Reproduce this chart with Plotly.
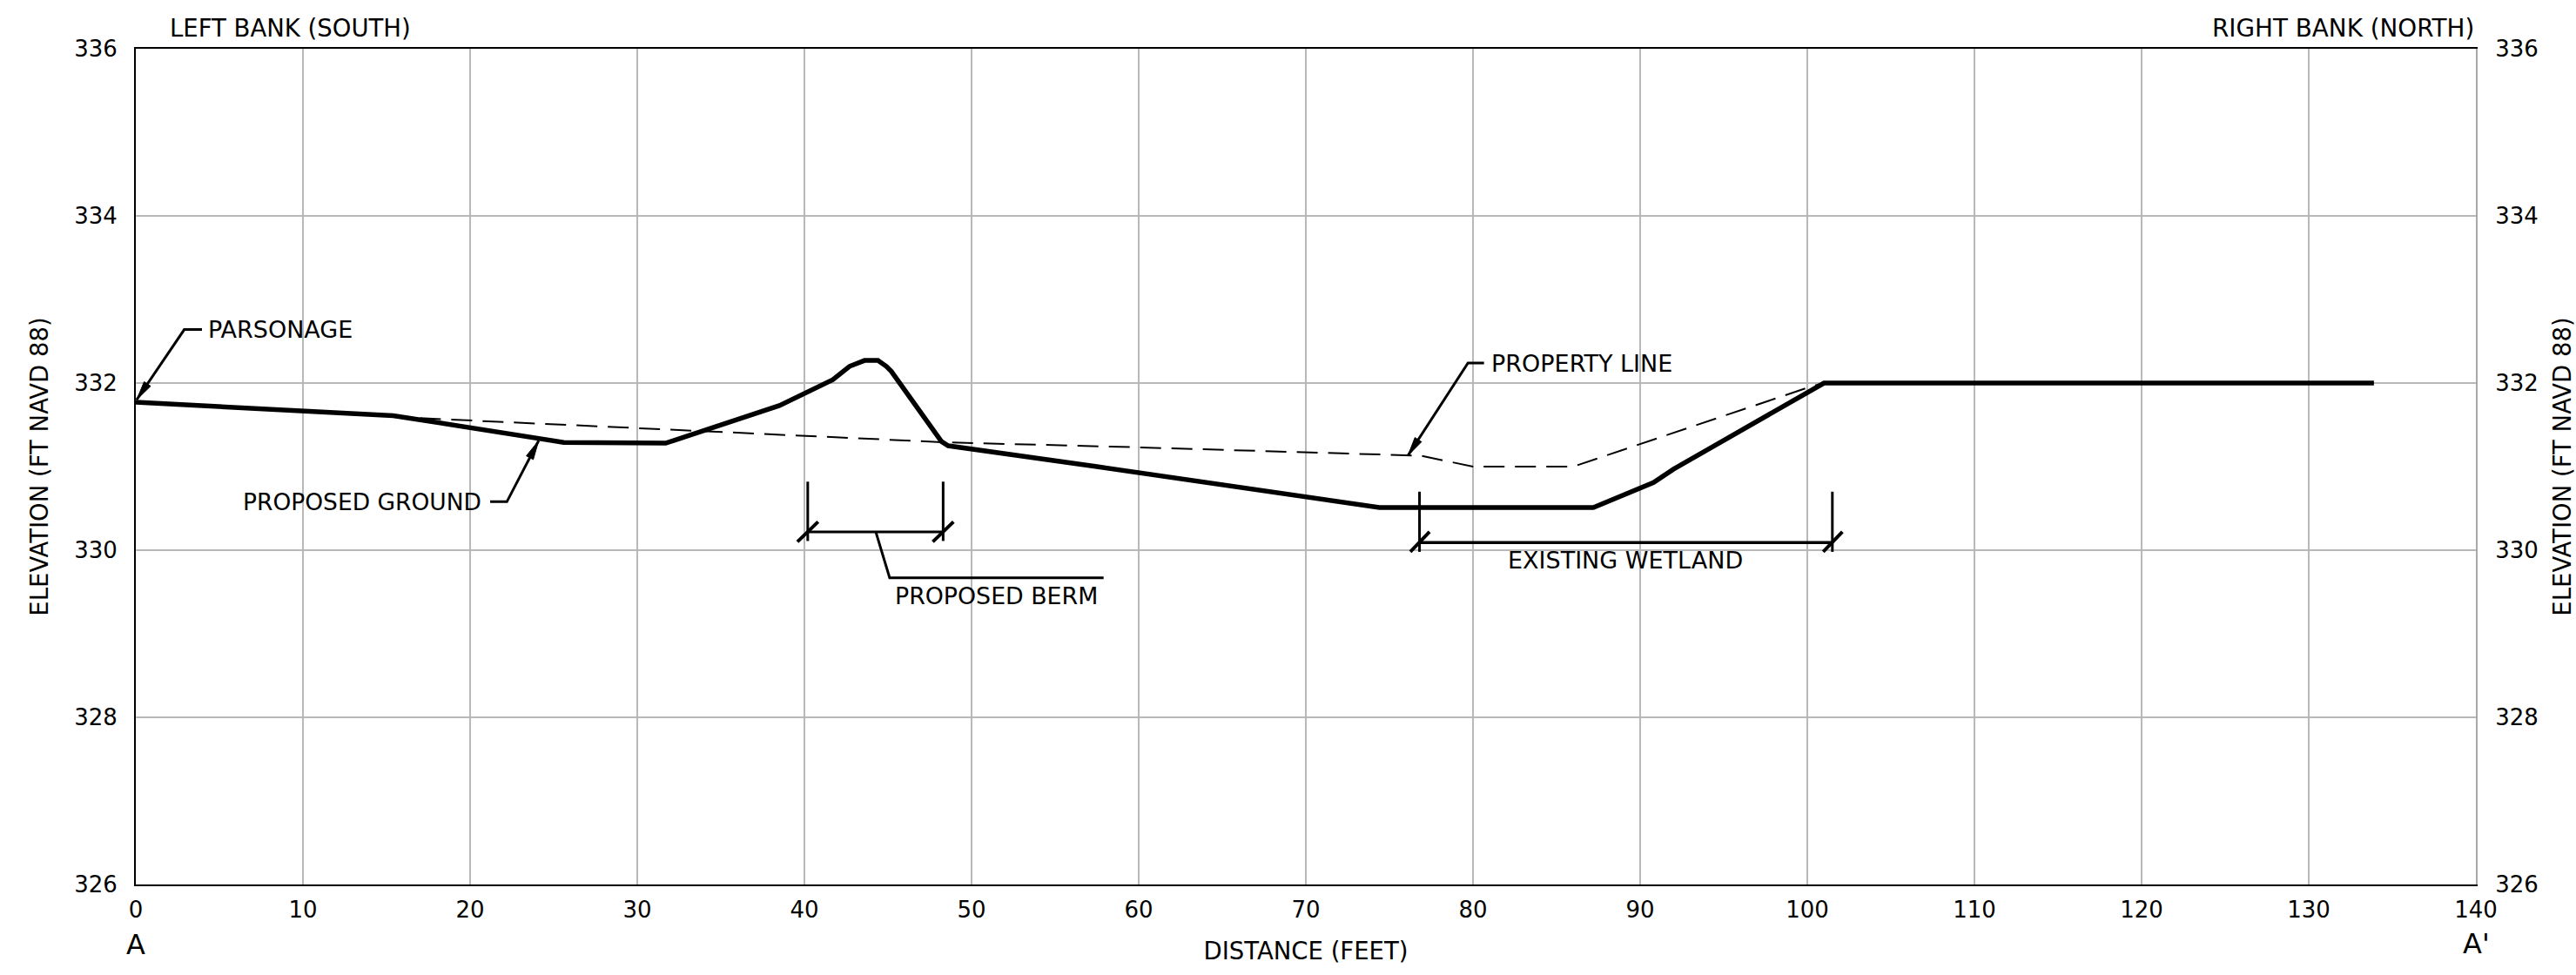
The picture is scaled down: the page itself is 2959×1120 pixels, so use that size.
import math
import plotly.graph_objects as go

FONT = "DejaVu Sans"
INK = "#000000"

x_ticks = list(range(0, 141, 10))
y_ticks = list(range(326, 337, 2))

ground_x = [0, 15.4, 25.6, 31.7, 38.5, 41.7, 42.7, 43.6, 44.4, 44.9, 45.2, 48.2, 48.6, 57.5, 74.4, 87.2, 90.8, 92, 101, 133.9]
ground_y = [331.77, 331.61, 331.29, 331.28, 331.73, 332.04, 332.2, 332.27, 332.27, 332.2, 332.14, 331.3, 331.25, 331.0, 330.51, 330.51, 330.81, 330.97, 332, 332]

existing_x = [17, 34, 48.5, 60.1, 76.9, 80, 86, 100.1, 101]
existing_y = [331.58, 331.42, 331.29, 331.23, 331.13, 331.0, 331.0, 331.95, 332]

parsonage_x = [3.96, 2.9, 0.05]
parsonage_y = [332.64, 332.64, 331.8]
ground_leader_x = [21.2, 22.2, 24.1]
ground_leader_y = [330.58, 330.58, 331.31]
property_x = [80.66, 79.7, 76.1]
property_y = [332.24, 332.24, 331.13]

berm_span_x = [40.2, 48.3]
berm_span_y = 330.22
berm_ext_y = [330.82, 330.11]
berm_leader_x = [44.27, 45.1, 57.9]
berm_leader_y = [330.22, 329.67, 329.67]

wetland_span_x = [76.8, 101.5]
wetland_span_y = 330.09
wetland_ext_y = [330.7, 329.98]

PX_X = 19.2
PX_Y = 96.0


def head(xs, ys, length=22, half=4.5):
    """Filled arrow head at the end of a leader, built in data units."""
    dx = (xs[-1] - xs[-2]) * PX_X
    dy = (ys[-1] - ys[-2]) * PX_Y
    n = math.hypot(dx, dy)
    ux, uy = dx / n, dy / n
    bx, by = -ux * length, -uy * length
    px, py = -uy * half, ux * half
    hx = [xs[-1], xs[-1] + (bx + px) / PX_X, xs[-1] + (bx - px) / PX_X, xs[-1]]
    hy = [ys[-1], ys[-1] + (by + py) / PX_Y, ys[-1] + (by - py) / PX_Y, ys[-1]]
    return hx, hy


fig = go.Figure()


def line(xs, ys, width, dash="solid"):
    fig.add_trace(go.Scatter(x=xs, y=ys, mode="lines", showlegend=False, hoverinfo="skip",
                             line=dict(color=INK, width=width, dash=dash, shape="linear")))


line(existing_x, existing_y, 2, "24px,12px")
line(ground_x, ground_y, 5.5)

for xs, ys in [(parsonage_x, parsonage_y), (ground_leader_x, ground_leader_y), (property_x, property_y)]:
    line(xs, ys, 3)
    hx, hy = head(xs, ys)
    fig.add_trace(go.Scatter(x=hx, y=hy, mode="lines", fill="toself", fillcolor=INK, showlegend=False,
                             hoverinfo="skip", line=dict(color=INK, width=1)))

# berm dimension
line(berm_span_x, [berm_span_y, berm_span_y], 3)
line(berm_leader_x, berm_leader_y, 3)
for bx in berm_span_x:
    line([bx, bx], berm_ext_y, 3)
    line([bx - 0.62, bx + 0.62], [berm_span_y - 0.12, berm_span_y + 0.12], 4)

# wetland dimension
line(wetland_span_x, [wetland_span_y, wetland_span_y], 3.5)
for bx in wetland_span_x:
    line([bx, bx], wetland_ext_y, 3)
    line([bx - 0.55, bx + 0.6], [wetland_span_y - 0.11, wetland_span_y + 0.13], 4)

# invisible trace so the right-hand axis is drawn
fig.add_trace(go.Scatter(x=[0], y=[326], yaxis="y2", mode="markers", showlegend=False,
                         marker=dict(opacity=0), hoverinfo="skip"))

labels = [
    ("PARSONAGE", 4.2, 332.64, "left", 27, "y"),
    ("PROPOSED GROUND", 20.8, 330.58, "right", 26.5, "y"),
    ("PROPERTY LINE", 81.0, 332.23, "left", 27, "y"),
    ("PROPOSED BERM", 45.3, 329.45, "left", 26.8, "y"),
    ("EXISTING WETLAND", 82.0, 329.88, "left", 27, "y"),
    ("A", 0, -0.072, "center", 32, "paper"),
    ("A'", 140, -0.071, "center", 32, "paper"),
    ("LEFT BANK (SOUTH)", 1.95, 1.025, "left", 27.5, "paper"),
    ("RIGHT BANK (NORTH)", 140, 1.025, "right", 27.8, "paper"),
]
annotations = [
    dict(text=t, x=x, y=y, xref="x", yref=r, xanchor=a, yanchor="middle", showarrow=False,
         font=dict(family=FONT, size=s, color=INK))
    for t, x, y, a, s, r in labels
]

axis_font = dict(family=FONT, size=26, color=INK)
title_font = dict(family=FONT, size=27.5, color=INK)
fig.update_layout(
    width=2959, height=1120,
    margin=dict(l=156, r=115, t=56, b=104, autoexpand=False),
    paper_bgcolor="white", plot_bgcolor="white",
    font=axis_font, showlegend=False,
    annotations=annotations,
    xaxis=dict(range=[0, 140], tickvals=x_ticks, showgrid=True, gridcolor="#b8b8b8", gridwidth=2,
               zeroline=False, showline=True, linecolor=INK, linewidth=2, mirror=True,
               ticks="outside", ticklen=5, tickcolor="rgba(0,0,0,0)", tickfont=axis_font,
               title=dict(text="DISTANCE (FEET)", font=title_font, standoff=24)),
    yaxis=dict(range=[326, 336], tickvals=y_ticks, showgrid=True, gridcolor="#b8b8b8", gridwidth=2,
               zeroline=False, showline=True, linecolor=INK, linewidth=2,
               ticks="outside", ticklen=14, tickcolor="rgba(0,0,0,0)", tickfont=axis_font,
               title=dict(text="ELEVATION (FT NAVD 88)", font=title_font, standoff=22)),
    yaxis2=dict(range=[326, 336], tickvals=y_ticks, overlaying="y", side="right", showgrid=False,
                zeroline=False, showline=True, linecolor="#a8a8a8", linewidth=2,
                ticks="outside", ticklen=15, tickcolor="rgba(0,0,0,0)", tickfont=axis_font,
                title=dict(text="ELEVATION (FT NAVD 88)", font=title_font, standoff=29)),
)
fig.write_html("out.html", config={"displayModeBar": False},
               post_script="document.body.style.margin='0';")
